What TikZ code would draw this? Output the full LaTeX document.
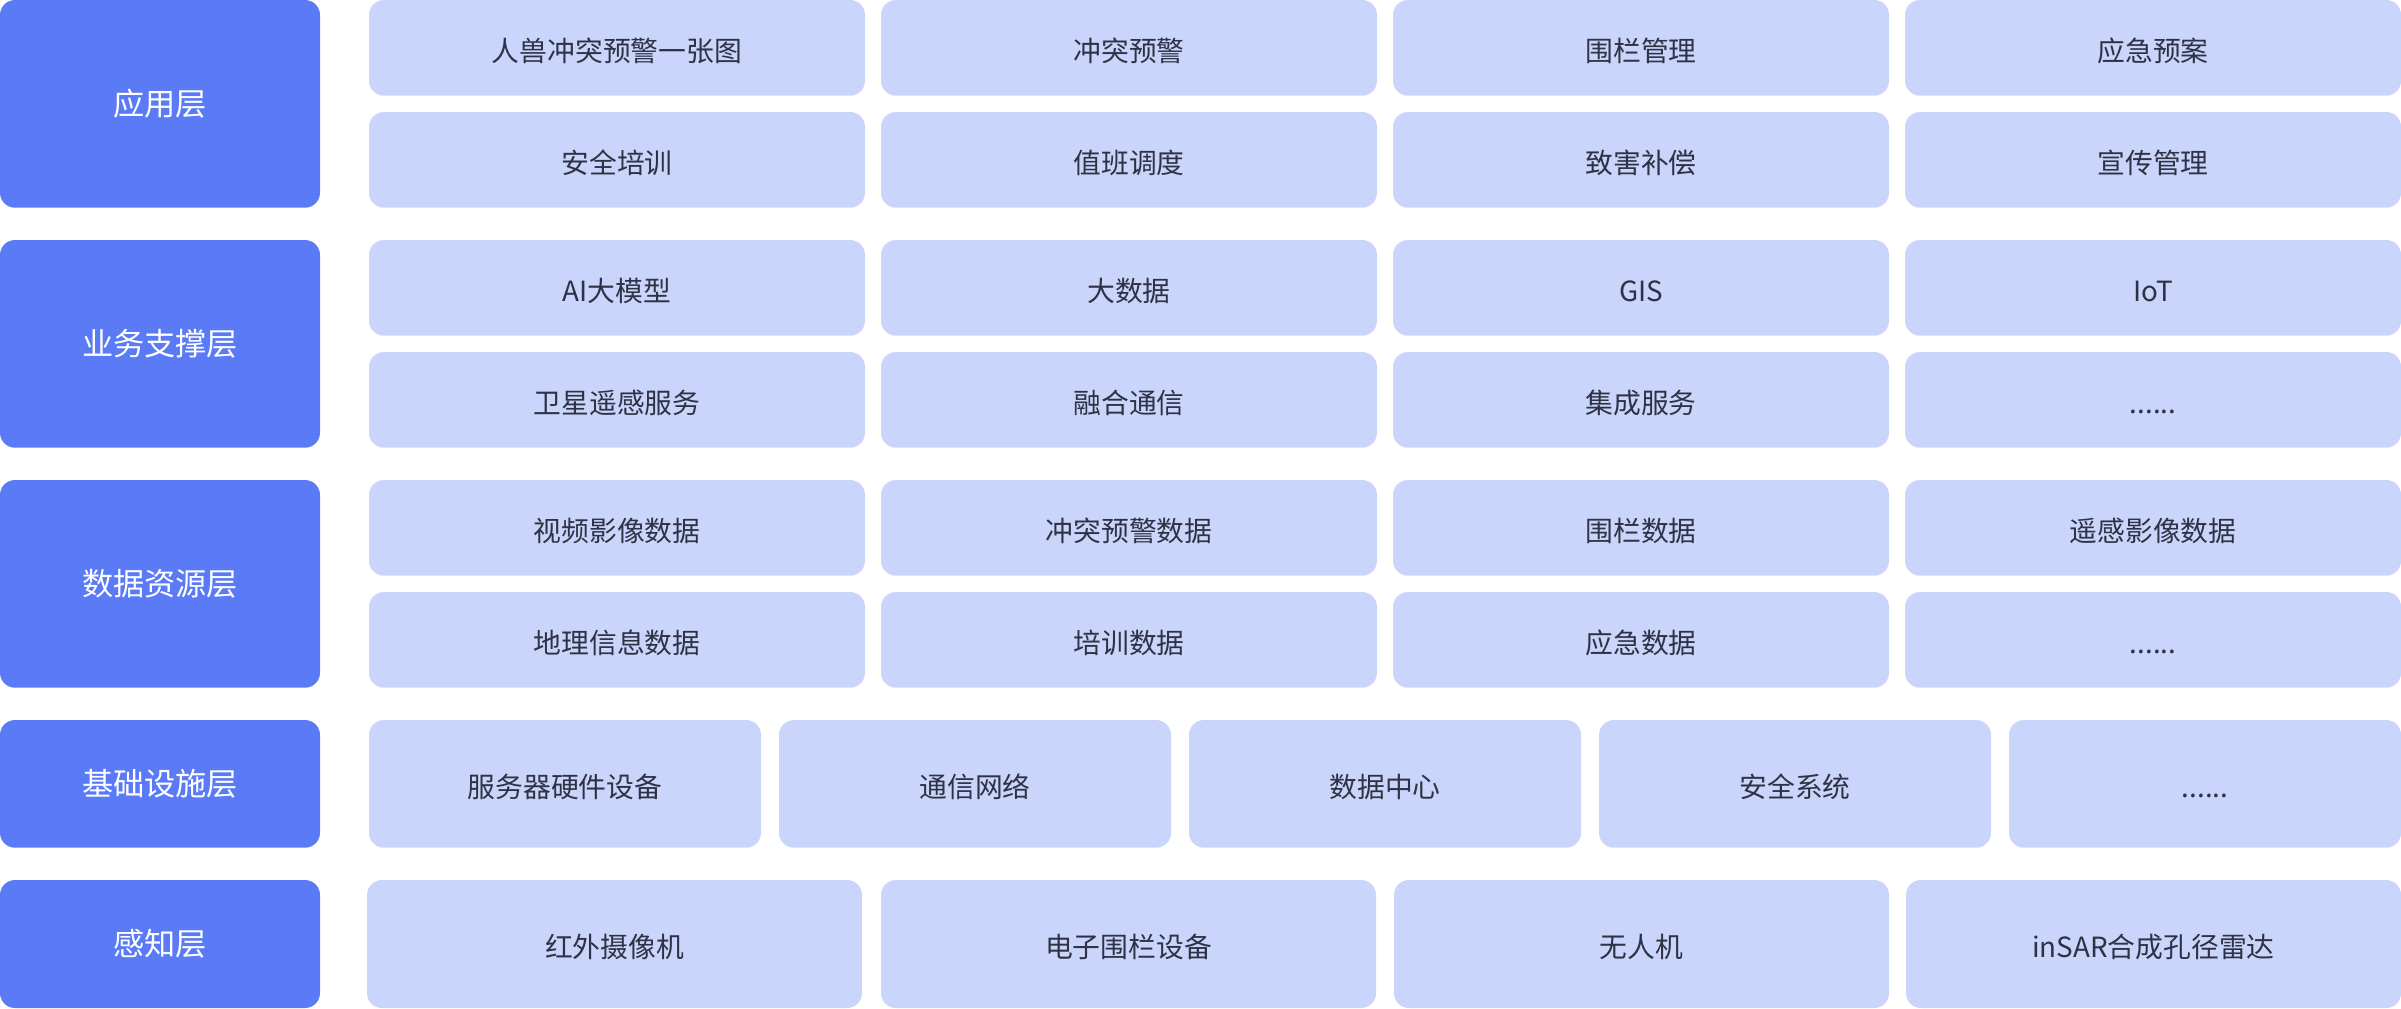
\documentclass[tikz,border=0pt]{standalone}
\usepackage{fontspec}
\setmainfont{Noto Sans CJK SC}
\usetikzlibrary{positioning}

\definecolor{layerblue}{HTML}{5A7BF5}
\definecolor{itemblue}{HTML}{C9D5FA}
\definecolor{itemtext}{HTML}{2E3244}

\tikzset{
  layerbox/.style={fill=layerblue,text=white,rounded corners=7.5pt,
    minimum width=160pt,minimum height=103.85pt,inner sep=0pt,
    text height=11.8pt,text depth=0pt,
    font=\fontsize{15.6pt}{18pt}\selectfont},
  itembox/.style={fill=itemblue,text=itemtext,rounded corners=7.5pt,
    minimum width=248pt,minimum height=47.85pt,inner sep=0pt,
    text height=13.6pt,text depth=0pt,
    font=\fontsize{13.9pt}{16pt}\selectfont},
  infrabox/.style={itembox,minimum width=196pt,minimum height=63.85pt},
  sensebox/.style={itembox,minimum width=247.5pt,minimum height=64pt}
}

\begin{document}
\begin{tikzpicture}[x=0.5pt,y=-0.5pt]
\useasboundingbox (0,0) rectangle (2401,1008);

% layers
\node[layerbox] (app) at (160,103.85) {应用层};
\node[layerbox] (biz) at (160,343.85) {业务支撑层};
\node[layerbox] (data) at (160,583.85) {数据资源层};
\node[layerbox,minimum height=63.85pt] (infra) at (160,783.85) {基础设施层};
\node[layerbox,minimum height=64pt] (sense) at (160,944) {感知层};

% application layer
\node[itembox] (app1) at (617,47.85) {人兽冲突预警一张图};
\node[itembox] (app2) at (1129,47.85) {冲突预警};
\node[itembox] (app3) at (1641,47.85) {围栏管理};
\node[itembox] (app4) at (2153,47.85) {应急预案};
\node[itembox] (app5) at (617,159.85) {安全培训};
\node[itembox] (app6) at (1129,159.85) {值班调度};
\node[itembox] (app7) at (1641,159.85) {致害补偿};
\node[itembox] (app8) at (2153,159.85) {宣传管理};

% business support layer
\node[itembox] (biz1) at (617,287.85) {AI大模型};
\node[itembox] (biz2) at (1129,287.85) {大数据};
\node[itembox] (biz3) at (1641,287.85) {GIS};
\node[itembox] (biz4) at (2153,287.85) {IoT};
\node[itembox] (biz5) at (617,399.85) {卫星遥感服务};
\node[itembox] (biz6) at (1129,399.85) {融合通信};
\node[itembox] (biz7) at (1641,399.85) {集成服务};
\node[itembox] (biz8) at (2153,399.85) {......};

% data resource layer
\node[itembox] (data1) at (617,527.85) {视频影像数据};
\node[itembox] (data2) at (1129,527.85) {冲突预警数据};
\node[itembox] (data3) at (1641,527.85) {围栏数据};
\node[itembox] (data4) at (2153,527.85) {遥感影像数据};
\node[itembox] (data5) at (617,639.85) {地理信息数据};
\node[itembox] (data6) at (1129,639.85) {培训数据};
\node[itembox] (data7) at (1641,639.85) {应急数据};
\node[itembox] (data8) at (2153,639.85) {......};

% infrastructure layer
\node[infrabox] (infra1) at (565,783.85) {服务器硬件设备};
\node[infrabox] (infra2) at (975,783.85) {通信网络};
\node[infrabox] (infra3) at (1385,783.85) {数据中心};
\node[infrabox] (infra4) at (1795,783.85) {安全系统};
\node[infrabox] (infra5) at (2205,783.85) {......};

% sensing layer
\node[sensebox] (sense1) at (614.5,944) {红外摄像机};
\node[sensebox] (sense2) at (1128.5,944) {电子围栏设备};
\node[sensebox] (sense3) at (1641.5,944) {无人机};
\node[sensebox] (sense4) at (2153.5,944) {inSAR合成孔径雷达};
\end{tikzpicture}
\end{document}
